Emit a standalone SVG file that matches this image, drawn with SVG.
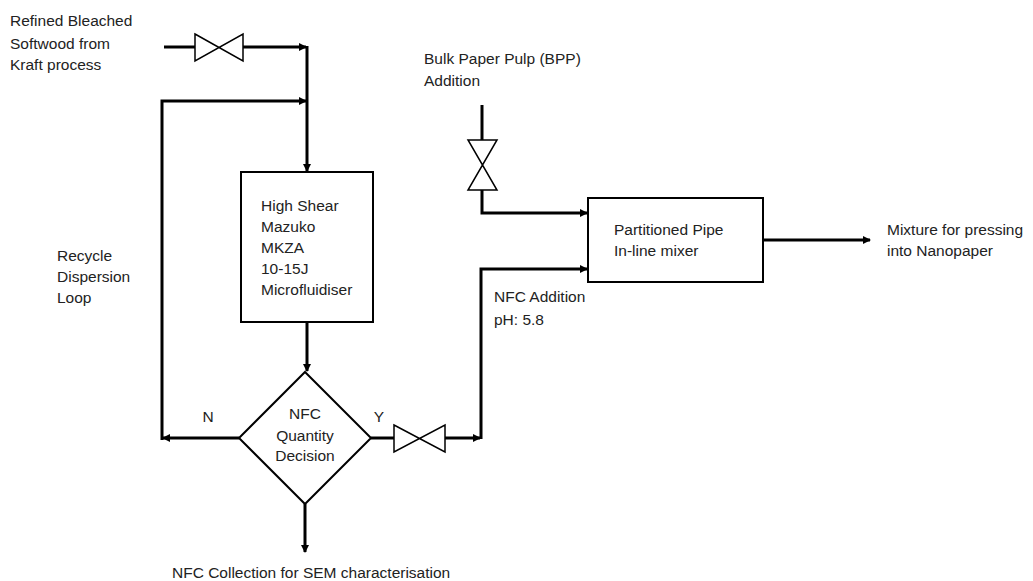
<svg xmlns="http://www.w3.org/2000/svg" width="1033" height="581" viewBox="0 0 1033 581">
<style>
text{font-family:"Liberation Sans",Arial,sans-serif;font-size:15.5px;fill:#222;}
.pipe{fill:none;stroke:#000;stroke-width:3;}
.box{fill:#fff;stroke:#000;stroke-width:2;}
.valve{fill:#fff;stroke:#000;stroke-width:1.5;}
</style>
<defs>
<marker id="ah" markerWidth="8" markerHeight="8" refX="7" refY="4" orient="auto" markerUnits="userSpaceOnUse">
<path d="M0,0 L8,4 L0,8 Z" fill="#000"/>
</marker>
</defs>
<rect width="1033" height="581" fill="#fff"/>
<g id="connectors">
<path class="pipe" d="M164,47 H195"/>
<path class="pipe" d="M243,47 H306" marker-end="url(#ah)"/>
<path class="pipe" d="M307,46 V171" marker-end="url(#ah)"/>
<path class="pipe" d="M162,440 V101 H306" marker-end="url(#ah)"/>
<path class="pipe" d="M307,322 V371" marker-end="url(#ah)"/>
<path class="pipe" d="M239,438 H163" marker-end="url(#ah)"/>
<path class="pipe" d="M305,504 V552" marker-end="url(#ah)"/>
<path class="pipe" d="M371,438 H394"/>
<path class="pipe" d="M445,438 H480" marker-end="url(#ah)"/>
<path class="pipe" d="M481,439 V269 H587" marker-end="url(#ah)"/>
<path class="pipe" d="M482,105 V140"/>
<path class="pipe" d="M482,190 V213 H587" marker-end="url(#ah)"/>
<path class="pipe" d="M763,240 H870" marker-end="url(#ah)"/>
</g>
<g id="valve-feed"><path class="valve" d="M195,34 L243,61 L243,34 L195,61 Z"/></g>
<g id="valve-bpp"><path class="valve" d="M468,140 L497,140 L468,190 L497,190 Z"/></g>
<g id="valve-nfc"><path class="valve" d="M394,425 L445,452 L445,425 L394,452 Z"/></g>
<g id="label-feed">
<text x="10" y="26">Refined Bleached</text>
<text x="10" y="49">Softwood from</text>
<text x="10" y="70">Kraft process</text>
</g>
<g id="microfluidiser">
<rect class="box" x="241" y="172" width="132" height="150"/>
<text x="261" y="211">High Shear</text>
<text x="261" y="232">Mazuko</text>
<text x="261" y="253">MKZA</text>
<text x="261" y="274">10-15J</text>
<text x="261" y="295">Microfluidiser</text>
</g>
<g id="label-recycle">
<text x="57" y="261">Recycle</text>
<text x="57" y="282">Dispersion</text>
<text x="57" y="303">Loop</text>
</g>
<g id="decision">
<path class="box" d="M305,372 L371,438 L305,504 L239,438 Z"/>
<text x="305" y="419" text-anchor="middle">NFC</text>
<text x="305" y="441" text-anchor="middle">Quantity</text>
<text x="305" y="461" text-anchor="middle">Decision</text>
</g>
<g id="label-n"><text x="208" y="422" text-anchor="middle">N</text></g>
<g id="label-y"><text x="379" y="422" text-anchor="middle">Y</text></g>
<g id="label-collection"><text x="172" y="578">NFC Collection for SEM characterisation</text></g>
<g id="label-bpp">
<text x="424" y="64">Bulk Paper Pulp (BPP)</text>
<text x="424" y="86">Addition</text>
</g>
<g id="label-nfc-addition">
<text x="494" y="302">NFC Addition</text>
<text x="494" y="325">pH: 5.8</text>
</g>
<g id="mixer">
<rect class="box" x="588" y="198" width="175" height="84"/>
<text x="614" y="235">Partitioned Pipe</text>
<text x="614" y="256">In-line mixer</text>
</g>
<g id="label-output">
<text x="887" y="235">Mixture for pressing</text>
<text x="887" y="256">into Nanopaper</text>
</g>
</svg>
